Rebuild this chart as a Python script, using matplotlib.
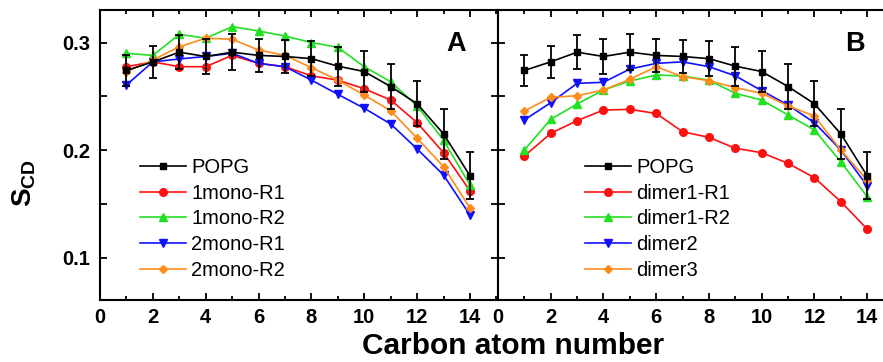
import numpy as np
import matplotlib
matplotlib.use("Agg")
import matplotlib.pyplot as plt
from matplotlib.ticker import MultipleLocator
from matplotlib.lines import Line2D

#Data (order parameter per carbon atom)
carbons = np.arange(1, 15)

popg = [0.274, 0.282, 0.291, 0.287, 0.291, 0.288, 0.287, 0.285, 0.278, 0.273, 0.259, 0.243, 0.215, 0.176]
popg_err = [0.014, 0.015, 0.016, 0.016, 0.017, 0.015, 0.015, 0.016, 0.018, 0.019, 0.021, 0.021, 0.023, 0.022]

#Panel A
mono1_r1 = [0.2775, 0.282, 0.2775, 0.2775, 0.288, 0.2806, 0.2775, 0.269, 0.265, 0.257, 0.2465, 0.2254, 0.1975, 0.162]
mono1_r2 = [0.290, 0.288, 0.3076, 0.304, 0.3147, 0.3107, 0.306, 0.300, 0.2955, 0.2775, 0.2635, 0.241, 0.209, 0.1675]
mono2_r1 = [0.2605, 0.282, 0.2847, 0.287, 0.290, 0.2806, 0.2775, 0.265, 0.2518, 0.2388, 0.2242, 0.201, 0.1767, 0.1395]
mono2_r2 = [0.2728, 0.2837, 0.296, 0.304, 0.303, 0.293, 0.288, 0.2766, 0.265, 0.251, 0.2366, 0.211, 0.1845, 0.146]

#Panel B
dimer1_r1 = [0.1944, 0.2155, 0.2273, 0.2372, 0.2378, 0.234, 0.217, 0.2118, 0.2016, 0.1975, 0.1876, 0.1742, 0.152, 0.1265]
dimer1_r2 = [0.200, 0.2286, 0.2428, 0.2558, 0.2642, 0.2698, 0.2688, 0.265, 0.2527, 0.2465, 0.2326, 0.2186, 0.189, 0.1566]
dimer2 = [0.228, 0.244, 0.262, 0.263, 0.2753, 0.2806, 0.282, 0.2775, 0.269, 0.2552, 0.2419, 0.2254, 0.200, 0.1666]
dimer3 = [0.2363, 0.249, 0.2505, 0.2558, 0.2658, 0.2775, 0.2682, 0.2645, 0.258, 0.2527, 0.241, 0.2316, 0.200, 0.172]

labels_a = ["POPG", "1mono-R1", "1mono-R2", "2mono-R1", "2mono-R2"]
labels_b = ["POPG", "dimer1-R1", "dimer1-R2", "dimer2", "dimer3"]

red = "#ff1010"
green = "#22e022"
blue = "#1010ff"
orange = "#ff8c1a"

plt.rcParams["font.family"] = ["Liberation Sans", "DejaVu Sans"]
plt.rcParams["mathtext.fontset"] = "custom"
plt.rcParams["mathtext.rm"] = "Liberation Sans:bold"
plt.rcParams["mathtext.bf"] = "Liberation Sans:bold"

fig = plt.figure(figsize=(8.83, 3.62), dpi=100)
ax_a = fig.add_axes([100 / 883, 62 / 362, 398 / 883, 290.5 / 362])
ax_b = fig.add_axes([498 / 883, 62 / 362, 385 / 883, 290.5 / 362])


def draw_panel(ax, series, labels, letter, xmax, letter_x, leg_x):
    ax.errorbar(carbons, popg, yerr=popg_err, color="black", marker="s", markersize=5,
                linewidth=1.2, elinewidth=1.3, capsize=3, capthick=1.3, zorder=5)
    handles = [Line2D([], [], color="black", marker="s", markersize=5, linewidth=1.2)]
    markers = ["o", "^", "v", "D"]
    colors = [red, green, blue, orange]
    sizes = [5.5, 6, 6, 4.5]
    for vals, m, c, s in zip(series, markers, colors, sizes):
        line, = ax.plot(carbons, vals, color=c, marker=m, markersize=s, linewidth=1.2)
        handles.append(line)

    ax.set_xlim(0, xmax)
    ax.set_ylim(0.0605, 0.3307)
    ax.xaxis.set_major_locator(MultipleLocator(2))
    ax.xaxis.set_minor_locator(MultipleLocator(1))
    ax.set_yticks([0.1, 0.2, 0.3])
    ax.yaxis.set_minor_locator(MultipleLocator(0.05))
    ax.tick_params(which="both", direction="in", top=True, right=True, width=1.3)
    ax.tick_params(axis="x", which="major", length=5, pad=6)
    ax.tick_params(axis="x", which="minor", length=3)
    ax.tick_params(axis="y", which="both", length=5, pad=7)
    for t in ax.get_xticklabels() + ax.get_yticklabels():
        t.set_fontweight("bold")
        t.set_fontsize(14.5)
    for sp in ax.spines.values():
        sp.set_linewidth(1.5)

    ax.text(letter_x, 0.881, letter, transform=ax.transAxes, fontsize=19.5, fontweight="bold",
            ha="center", va="center")

    ax.legend(handles, labels, loc="lower left", bbox_to_anchor=(leg_x, 0.07),
              frameon=False, fontsize=14.5, handlelength=2.3, handletextpad=0.25,
              labelspacing=0.33, borderpad=0, borderaxespad=0)


draw_panel(ax_a, [mono1_r1, mono1_r2, mono2_r1, mono2_r2], labels_a, "A", 15.06, 0.894, 0.10)
draw_panel(ax_b, [dimer1_r1, dimer1_r2, dimer2, dimer3], labels_b, "B", 14.6, 0.927, 0.226)

#Panel B: shares the left line with A and has no right frame
ax_b.spines["right"].set_visible(False)
ax_b.tick_params(which="both", right=False, labelleft=False)

fig.text(0.581, 0.045, "Carbon atom number", ha="center", va="center", fontsize=21.5, fontweight="bold")
fig.text(0.027, 0.494, r"$\mathbf{S}_{\mathbf{CD}}$", rotation=90, ha="center", va="center", fontsize=20)

fig.savefig("out.png", dpi=100)
